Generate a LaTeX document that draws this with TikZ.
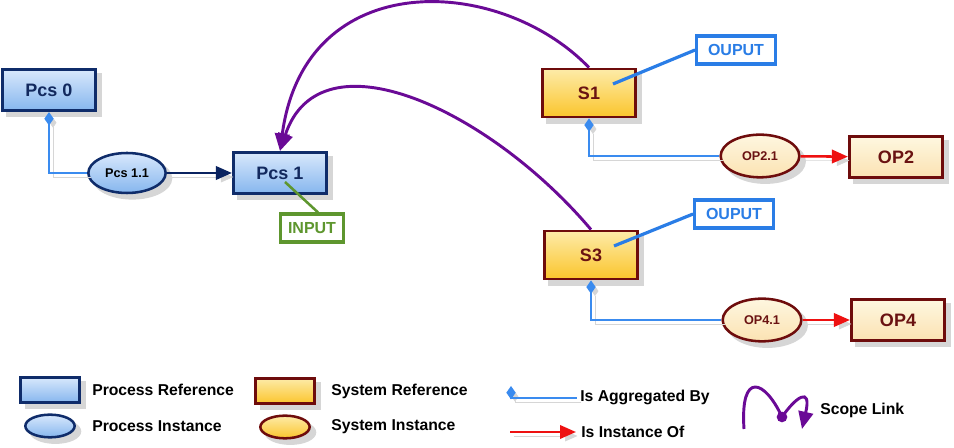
\documentclass[tikz,border=0pt]{standalone}
\usepackage{fontspec}
\setsansfont{Liberation Sans}
\usetikzlibrary{positioning}
\usetikzlibrary{shapes.geometric}
\usetikzlibrary{arrows.meta}
\pgfdeclarelayer{background}
\pgfsetlayers{background,main}
\definecolor{procline}{HTML}{0F2C6A}
\definecolor{proctext}{HTML}{12295E}
\definecolor{proctop}{HTML}{D8E8FC}
\definecolor{procbot}{HTML}{86B6EE}
\definecolor{sysline}{HTML}{6E0C0C}
\definecolor{systext}{HTML}{6A1212}
\definecolor{systop}{HTML}{FDEBA8}
\definecolor{sysbot}{HTML}{FBC52C}
\definecolor{optop}{HTML}{FEF7E0}
\definecolor{opbot}{HTML}{FBE2B2}
\definecolor{outblue}{HTML}{2A7DE6}
\definecolor{ingreen}{HTML}{5E962E}
\definecolor{aggblue}{HTML}{3A8BEF}
\definecolor{scopepurple}{HTML}{6A0A96}
\definecolor{instred}{HTML}{EE1111}
\definecolor{navyarrow}{HTML}{0A2360}
\definecolor{shadowgray}{HTML}{D6D6D6}
\tikzset{
  every node/.append style={font=\sffamily\bfseries},
  % shapes
  boxshape/.style={rectangle, line width=2.1pt, minimum width=70pt, minimum height=31pt,
    font=\sffamily\bfseries\fontsize{13.5}{15}\selectfont},
  ovalshape/.style={ellipse, line width=1.9pt, minimum width=58pt, minimum height=30pt, inner sep=0pt,
    font=\sffamily\bfseries\fontsize{9.5}{11}\selectfont},
  % looks
  proclook/.style={draw=procline, top color=proctop, bottom color=procbot, text=proctext},
  proclookinst/.style={draw=procline, top color=proctop, bottom color=procbot, text=black},
  syslook/.style={draw=sysline, top color=systop, bottom color=sysbot, text=systext},
  oplook/.style={draw=sysline, top color=optop, bottom color=opbot, text=systext},
  note/.style={rectangle, draw=#1, text=#1, fill=white, line width=2.4pt, minimum width=59pt, minimum height=21pt,
    inner sep=1pt, font=\sffamily\bfseries\fontsize{12}{14}\selectfont},
  legendtext/.style={anchor=west, inner sep=0pt, font=\sffamily\bfseries\fontsize{11.8}{13}\selectfont},
  ghost/.style={preaction={draw=shadowgray, transform canvas={shift={(3pt,-3pt)}}}},
  aggregation/.style={draw=aggblue, line width=1.9pt, ghost, {Diamond[width=7pt,length=10pt]}-},
  instance/.style={draw=instred, line width=1.9pt, ghost, -{Triangle[width=10pt,length=12pt]}},
  scope/.style={draw=scopepurple, line width=2.2pt, -{Triangle[width=11pt,length=13pt]}}
}
\newcommand\shapenode[6][]{
  % #1 (optional) - extra size options
  % #2 - shape style, #3 - look style
  % #4 - name, #5 - location, #6 - text
  % for example: \shapenode{boxshape}{proclook}{pcs0}{49,90}{Pcs 0}
  \node[#2, #1, #3] (#4) at (#5) {#6};
  \begin{pgfonlayer}{background}
    \node[#2, #1, fill=shadowgray, draw=shadowgray] (#4-sh) at ([shift={(4pt,-4pt)}]#4.center) {};
  \end{pgfonlayer}
}

\begin{document}
\begin{tikzpicture}[x=0.75pt, y=-0.75pt]
  \useasboundingbox (0,0) rectangle (954,448);

  % processes
  \shapenode{boxshape}{proclook}{pcs0}{49,90}{Pcs 0}
  \shapenode{ovalshape}{proclookinst}{pcs11}{127,173}{Pcs 1.1}
  \shapenode{boxshape}{proclook}{pcs1}{280,173}{Pcs 1}
  \node[note=ingreen, minimum width=47pt] (input) at (312,228) {INPUT};

  % systems
  \shapenode[minimum height=36pt]{boxshape}{syslook}{s1}{589,93}{S1}
  \node[note=outblue] (out1) at (736,50) {OUPUT};
  \shapenode[minimum width=59pt, minimum height=32pt]{ovalshape}{oplook}{op21}{760,156}{OP2.1}
  \shapenode{boxshape}{oplook}{op2}{896,157}{OP2}

  \shapenode[minimum height=36pt]{boxshape}{syslook}{s3}{591,255}{S3}
  \node[note=outblue] (out3) at (734,214) {OUPUT};
  \shapenode[minimum width=59pt, minimum height=32pt]{ovalshape}{oplook}{op41}{762,320}{OP4.1}
  \shapenode{boxshape}{oplook}{op4}{898,320}{OP4}

  % links
  \draw[aggregation] (pcs0.south) |- (pcs11.west);
  \draw[navyarrow, line width=1.9pt, ghost, -{Triangle[width=10pt,length=12pt]}] (pcs11) -- (pcs1);
  \draw[ingreen, line width=1.9pt] ([shift={(5,9)}]pcs1.center) -- ([xshift=4.5pt]input.north);

  \draw[outblue, line width=2.4pt] ([shift={(24,-9)}]s1.center) -- (out1.west);
  \draw[aggregation] (s1.south) |- (op21.west);
  \draw[instance] (op21) -- (op2);

  \draw[outblue, line width=2.4pt] ([shift={(23,-9)}]s3.center) -- (out3.west);
  \draw[aggregation] (s3.south) |- (op41.west);
  \draw[instance] (op41) -- (op4);

  \draw[scope] (s1.north) .. controls (500,-25) and (305,-35) .. (pcs1.north);
  \draw[scope] (s3.north) .. controls (490,110) and (320,30) .. (pcs1.north);

  % legend
  \shapenode[minimum width=44pt, minimum height=19pt]{boxshape}{proclook}{lgprocref}{50,390}{}
  \node[legendtext] (lgproctxt) at (92,390) {Process Reference};
  \shapenode[minimum width=37pt, minimum height=17pt]{ovalshape}{proclook}{lgprocinst}{50,426}{}
  \node[legendtext] (lgprocitxt) at (92,426) {Process Instance};

  \shapenode[minimum width=44pt, minimum height=19pt]{boxshape}{syslook}{lgsysref}{285,391}{}
  \node[legendtext] (lgsystxt) at (331,391) {System Reference};
  \shapenode[minimum width=37pt, minimum height=17pt]{ovalshape}{syslook}{lgsysinst}{285,427}{}
  \node[legendtext] (lgsysitxt) at (331,427) {System Instance};

  \coordinate (aggtop) at (511,386);
  \coordinate (aggend) at (577,398);
  \draw[aggregation] (aggtop) |- (aggend);
  \node[legendtext] (aggtxt) at (580,397) {Is Aggregated By};

  \coordinate (inststart) at (510,432);
  \coordinate (instend) at (576,432);
  \draw[instance] (inststart) -- (instend);
  \node[legendtext] (insttxt) at (581,432) {Is Instance Of};

  \coordinate (scopestart) at (744,429);
  \coordinate (scopedot) at (782,417);
  \coordinate (scopeend) at (802,429);
  \draw[scope] (scopestart) .. controls (740,370) and (765,380) .. (scopedot)
    .. controls (795,398) and (812,385) .. (scopeend);
  \fill[scopepurple] (scopedot) circle (4pt);
  \node[legendtext] (scopetxt) at (820,410) {Scope Link};
\end{tikzpicture}
\end{document}
